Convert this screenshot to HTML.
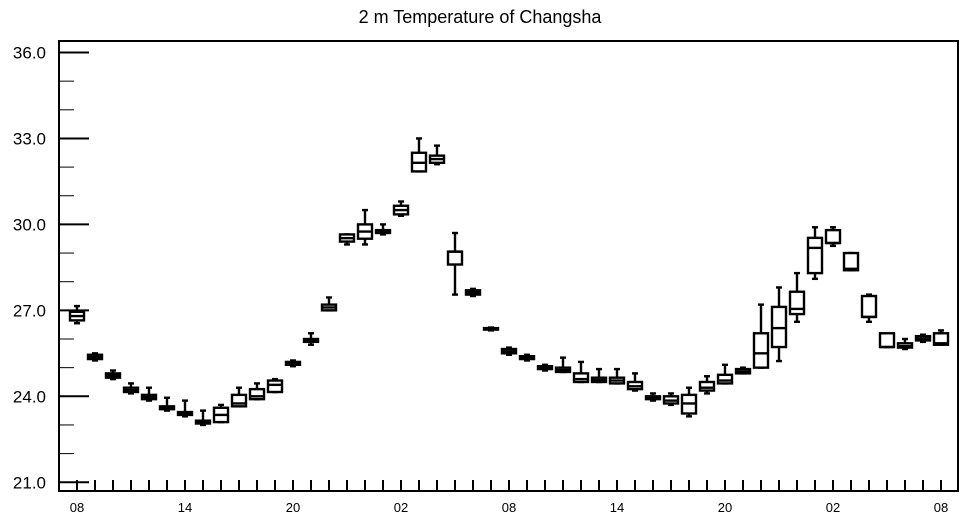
<!DOCTYPE html>
<html><head><meta charset="utf-8"><style>
body{margin:0;background:#fff;}
svg{display:block;font-family:"Liberation Sans",sans-serif;}
</style></head><body>
<svg id="chart" width="964" height="520">
<text x="480" y="23" text-anchor="middle" font-size="18">2 m Temperature of Changsha</text>
<rect x="59" y="41" width="899" height="450" fill="none" stroke="#000" stroke-width="2"/>
<g id="axes"></g>
<g id="boxes"></g>
</svg>
<script>
const yTicks=[21,24,27,30,33,36];
const yTickLabels=["21.0","24.0","27.0","30.0","33.0","36.0"];
const xTickLabels=["08","14","20","02","08","14","20","02","08"];
const q1=[26.65,25.3,24.65,24.15,23.9,23.55,23.35,23.05,23.1,23.65,23.9,24.15,25.1,25.9,27.0,29.4,29.5,29.7,30.35,31.85,32.15,28.6,27.55,26.33,25.5,25.3,24.95,24.85,24.5,24.5,24.45,24.25,23.9,23.75,23.4,24.2,24.45,24.8,25.0,25.72,26.87,28.3,29.35,28.4,26.77,25.72,25.7,25.95,25.8];
const med=[26.8,25.37,24.72,24.22,23.97,23.6,23.4,23.1,23.35,23.75,24.0,24.4,25.15,25.95,27.1,29.52,29.75,29.75,30.5,32.15,32.28,29.05,27.62,26.35,25.57,25.35,25.0,24.92,24.6,24.57,24.55,24.35,23.95,23.85,23.75,24.3,24.55,24.87,25.5,26.38,27.05,29.18,29.35,28.45,26.77,25.72,25.75,26.02,25.85];
const q3=[26.95,25.45,24.8,24.3,24.05,23.65,23.45,23.15,23.6,24.05,24.25,24.55,25.2,26.0,27.2,29.65,30.0,29.8,30.65,32.5,32.4,29.05,27.7,26.38,25.65,25.4,25.05,25.0,24.8,24.65,24.65,24.5,24.0,24.0,24.05,24.5,24.75,24.95,26.2,27.12,27.65,29.53,29.8,29.0,27.5,26.2,25.85,26.1,26.2];
const wLo=[26.55,25.25,24.6,24.1,23.85,23.5,23.3,23.0,23.1,23.65,23.9,24.15,25.05,25.8,27.0,29.3,29.3,29.65,30.3,31.85,32.1,27.55,27.5,26.3,25.45,25.25,24.9,24.85,24.5,24.5,24.45,24.2,23.85,23.7,23.3,24.1,24.45,24.8,25.0,25.23,26.6,28.1,29.25,28.4,26.6,25.72,25.65,25.9,25.8];
const wHi=[27.15,25.5,24.9,24.45,24.3,23.95,23.85,23.5,23.7,24.3,24.45,24.6,25.25,26.2,27.45,29.65,30.5,30.0,30.8,33.0,32.75,29.7,27.75,26.4,25.7,25.45,25.1,25.35,25.2,24.95,24.95,24.8,24.1,24.1,24.3,24.7,25.1,25.0,27.2,27.8,28.3,29.9,29.9,29.0,27.55,26.1,26.0,26.15,26.3];
const NS="http://www.w3.org/2000/svg";
const X0=77,DX=18,Y36=52.5,PPU=28.65;
function xS(i){return X0+DX*i;}
function yS(v){return Y36+(36-v)*PPU;}
function mk(tag,attrs,parent){const e=document.createElementNS(NS,tag);for(const k in attrs)e.setAttribute(k,attrs[k]);parent.appendChild(e);return e;}
const axes=document.getElementById('axes');
for(let v=21;v<=36;v++){
  const major=yTicks.includes(v);
  const t=mk('line',{x1:59,x2:major?89:74,y1:yS(v),y2:yS(v),stroke:'#000','stroke-width':major?2:1},axes);
  
  
}
yTicks.forEach((v,i)=>{
  const t=mk('text',{x:46,y:yS(v)+6,'text-anchor':'end','font-size':17},axes);
  t.textContent=yTickLabels[i];
  
  
});
for(let i=0;i<q1.length;i++){
  const t=mk('line',{x1:xS(i),x2:xS(i),y1:491,y2:480,stroke:'#000','stroke-width':2},axes);
  
  
}
xTickLabels.forEach((s,k)=>{
  const t=mk('text',{x:xS(k*6),y:512,'text-anchor':'middle','font-size':13},axes);
  t.textContent=s;
  
  
});
const boxes=document.getElementById('boxes');
for(let i=0;i<q1.length;i++){
  const g=mk('g',{stroke:'#000','stroke-width':2.4,fill:'none'},boxes);
  
  
  const x=xS(i);
  mk('line',{x1:x,x2:x,y1:yS(wHi[i]),y2:yS(q3[i])},g);
  mk('line',{x1:x,x2:x,y1:yS(q1[i]),y2:yS(wLo[i])},g);
  mk('line',{x1:x-3,x2:x+3,y1:yS(wHi[i]),y2:yS(wHi[i])},g);
  mk('line',{x1:x-3,x2:x+3,y1:yS(wLo[i]),y2:yS(wLo[i])},g);
  const top=yS(q3[i]),bot=yS(q1[i]);
  mk('rect',{x:x-7,y:top,width:14,height:Math.max(bot-top,1.5),fill:'#fff'},g);
  mk('line',{x1:x-7,x2:x+7,y1:yS(med[i]),y2:yS(med[i])},g);
}
</script>
</body></html>
